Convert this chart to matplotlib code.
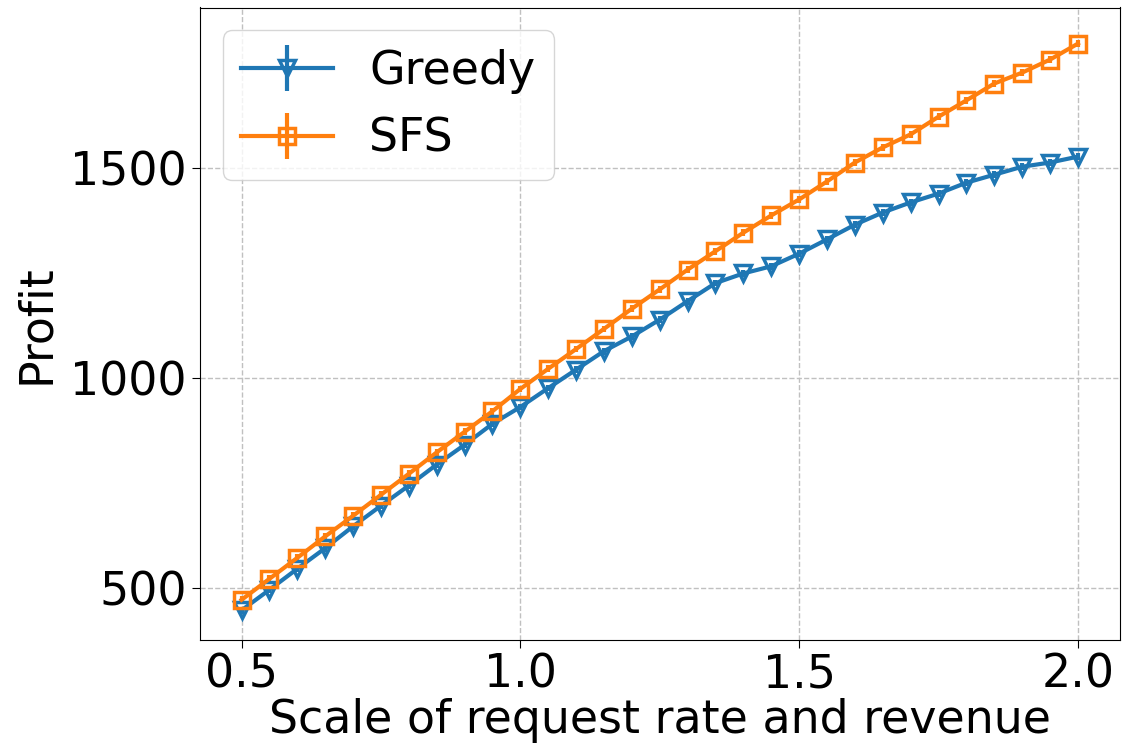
import numpy as np
import matplotlib
matplotlib.use("Agg")
import matplotlib.pyplot as plt

# scale factor on x axis
scale = np.round(np.arange(0.5, 2.0001, 0.05), 2)

# profit
greedy = [446, 495, 545, 594, 646, 695, 743, 793, 840, 890,
          930, 975, 1019, 1063, 1098, 1138, 1182, 1225, 1248, 1265,
          1295, 1329, 1364, 1393, 1417, 1438, 1464, 1483, 1502, 1512, 1526]
sfs = [471, 521, 571, 622, 671, 721, 771, 822, 871, 920,
       973, 1021, 1068, 1116, 1164, 1210, 1257, 1301, 1345, 1386,
       1424, 1467, 1512, 1548, 1579, 1621, 1660, 1700, 1726, 1757, 1795]
greedy_err = [8] * len(scale)
sfs_err = [8] * len(scale)

fig, ax = plt.subplots(figsize=(11.22, 7.5), dpi=100)

ax.errorbar(scale, greedy, yerr=greedy_err, marker='v', color='tab:blue',
            mfc='none', ms=11, mew=2.5, lw=3, label='Greedy')
ax.errorbar(scale, sfs, yerr=sfs_err, marker='s', color='tab:orange',
            mfc='none', ms=11, mew=2.5, lw=3, label='SFS')

ax.set_ylim(376, 1881)
ax.set_xticks([0.5, 1.0, 1.5, 2.0])
ax.set_yticks([500, 1000, 1500])
ax.tick_params(labelsize=33, length=6)
ax.set_xlabel('Scale of request rate and revenue', fontsize=33, labelpad=0)
ax.set_ylabel('Profit', fontsize=33, labelpad=8)
ax.grid(True, ls='--', color='#c0c0c0', lw=1)
ax.legend(loc='upper left', fontsize=33)

plt.subplots_adjust(left=0.178, right=0.998, top=0.99, bottom=0.147)
plt.savefig('out.png')
